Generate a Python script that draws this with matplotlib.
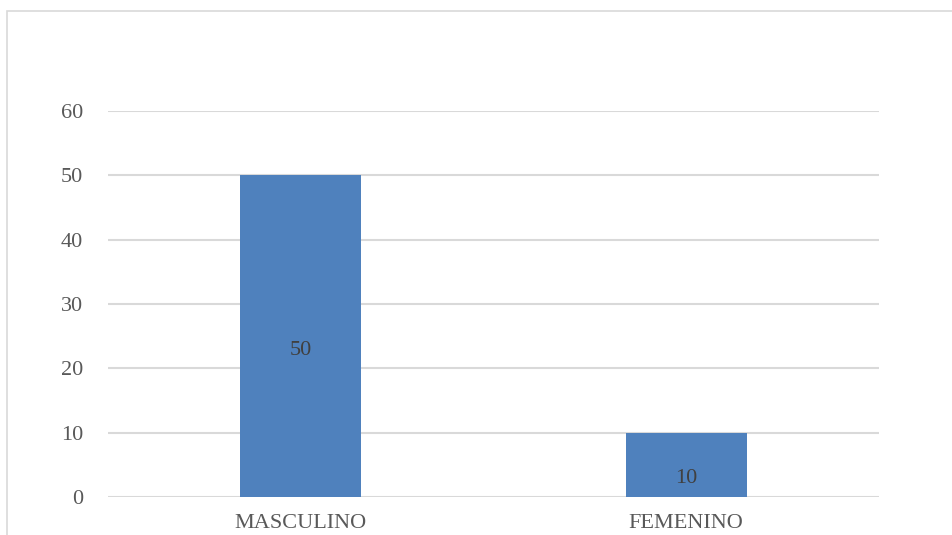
import matplotlib.pyplot as plt
from matplotlib.patches import Rectangle

categories = ["MASCULINO", "FEMENINO"]
values = [50, 10]
y_ticks = [0, 10, 20, 30, 40, 50, 60]

bar_color = "#4F81BD"
text_color = "#595959"
grid_color = "#D9D9D9"

plt.rcParams["font.family"] = ["Liberation Serif", "DejaVu Serif"]

fig = plt.figure(figsize=(9.53, 5.35), dpi=100)

# outer chart border (cut off at right and bottom like the original)
fig.patches.append(Rectangle((7 / 953, -0.1), 1.2, 1 - 11 / 535 + 0.1,
                             transform=fig.transFigure, fill=False,
                             edgecolor="#D9D9D9", linewidth=1.2))

ax = fig.add_axes([108 / 953, 1 - 497 / 535, 771 / 953, 386 / 535])
x = range(len(categories))
ax.bar(x, values, width=0.314, color=bar_color, zorder=3)

for xi, v in zip(x, values):
    ax.annotate(str(v), (xi, v / 2), xytext=(0, -14), textcoords="offset pixels",
                ha="center", va="center", fontsize=16, color="#404040", zorder=4)

ax.set_xlim(-0.5, 1.5)
ax.set_ylim(0, 60)
ax.set_yticks(y_ticks)
ax.set_xticks(list(x))
ax.set_xticklabels(categories)
ax.yaxis.grid(True, color=grid_color, linewidth=1.5, zorder=0)
ax.set_axisbelow(True)
for s in ax.spines.values():
    s.set_visible(False)
ax.tick_params(axis="both", length=0, labelsize=16, colors=text_color)
ax.tick_params(axis="y", pad=18)
ax.tick_params(axis="x", pad=12)

fig.savefig("out.png", dpi=100)
